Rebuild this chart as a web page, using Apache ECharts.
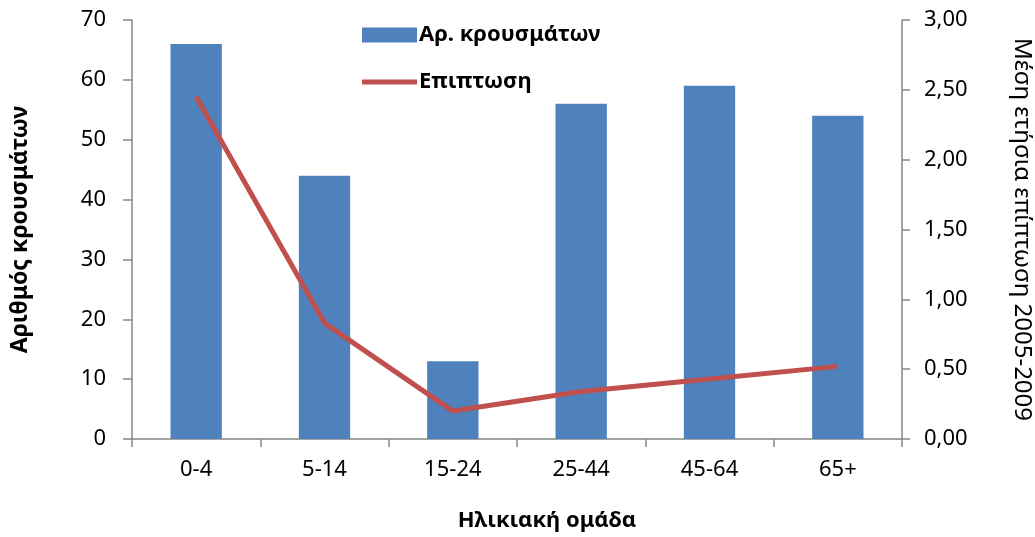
<!DOCTYPE html>
<html>
<head>
<meta charset="utf-8">
<script src="https://cdn.jsdelivr.net/npm/echarts@6/dist/echarts.min.js"></script>
<style>
  html, body { margin: 0; padding: 0; background: #fff; }
  #chart { width: 1035px; height: 537px; }
</style>
</head>
<body>
<div id="chart"></div>
<script>
// Age groups and values
const ageGroups = ['0-4', '5-14', '15-24', '25-44', '45-64', '65+'];
const caseCounts = [66, 44, 13, 56, 59, 54];
const incidence = [2.45, 0.83, 0.20, 0.34, 0.43, 0.52];

const FONT = '"Noto Sans", "Open Sans", sans-serif';
const AXIS_GRAY = '#868686';

const chart = echarts.init(document.getElementById('chart'));
chart.setOption({
  animation: false,
  textStyle: { fontFamily: FONT },
  grid: { left: 132, right: 133, top: 20, bottom: 98, containLabel: false, outerBoundsMode: 'none' },
  legend: {
    orient: 'vertical',
    left: 357,
    top: 19,
    itemWidth: 55,
    itemHeight: 15,
    itemGap: 25,
    textStyle: { fontFamily: FONT, fontSize: 22, fontWeight: 'bold', color: '#000', padding: [0, 0, 0, -3] },
    data: [
      { name: 'Αρ. κρουσμάτων', icon: 'rect' },
      { name: 'Επιπτωση', icon: 'path://M0,0 L55,0 L55,5 L0,5 Z' }
    ]
  },
  xAxis: {
    type: 'category',
    data: ageGroups,
    name: 'Ηλικιακή ομάδα',
    nameLocation: 'middle',
    nameGap: 71,
    nameTextStyle: { fontFamily: FONT, fontSize: 22, fontWeight: 'bold', color: '#000', padding: [0, 0, 0, 60] },
    axisLine: { lineStyle: { color: AXIS_GRAY, width: 1.5 } },
    axisTick: { show: true, length: 8, lineStyle: { color: AXIS_GRAY, width: 1.5 } },
    axisLabel: { fontFamily: FONT, fontSize: 22, color: '#000', margin: 20 }
  },
  yAxis: [
    {
      type: 'value',
      min: 0, max: 70, interval: 10,
      name: 'Αριθμός κρουσμάτων',
      nameLocation: 'middle',
      nameGap: 100,
      nameRotate: 90,
      nameTextStyle: { fontFamily: FONT, fontSize: 23, fontWeight: 'bold', color: '#000' },
      axisLine: { show: true, lineStyle: { color: AXIS_GRAY, width: 1.5 } },
      axisTick: { show: true, length: 9, lineStyle: { color: AXIS_GRAY, width: 1.5 } },
      axisLabel: { fontFamily: FONT, fontSize: 22, color: '#000', margin: 26 },
      splitLine: { show: false }
    },
    {
      type: 'value',
      min: 0, max: 3, interval: 0.5,
      name: 'Μέση ετήσια επίπτωση 2005-2009',
      nameLocation: 'middle',
      nameGap: 108,
      nameRotate: -90,
      nameTextStyle: { fontFamily: FONT, fontSize: 24, color: '#000', padding: [20, 0, 0, 0] },
      axisLine: { show: true, lineStyle: { color: AXIS_GRAY, width: 1.5 } },
      axisTick: { show: true, length: 8, lineStyle: { color: AXIS_GRAY, width: 1.5 } },
      axisLabel: {
        fontFamily: FONT, fontSize: 22, color: '#000', margin: 22,
        formatter: v => v.toFixed(2).replace('.', ',')
      },
      splitLine: { show: false }
    }
  ],
  series: [
    {
      name: 'Αρ. κρουσμάτων',
      type: 'bar',
      yAxisIndex: 0,
      data: caseCounts,
      barWidth: '40%',
      itemStyle: { color: '#4F81BD' }
    },
    {
      name: 'Επιπτωση',
      type: 'line',
      yAxisIndex: 1,
      data: incidence,
      symbol: 'none',
      lineStyle: { color: '#C0504D', width: 5 },
      itemStyle: { color: '#C0504D' }
    }
  ]
});
</script>
</body>
</html>
